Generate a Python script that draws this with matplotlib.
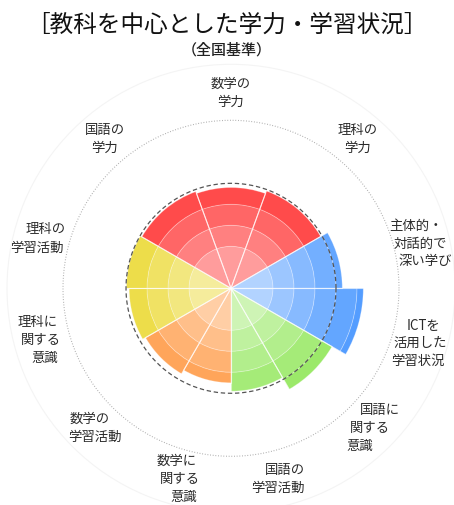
import numpy as np
import matplotlib
matplotlib.use("Agg")
import matplotlib.pyplot as plt
from matplotlib.colors import to_rgb

plt.rcParams['font.family'] = ['Noto Sans CJK JP', 'DejaVu Sans']

# ---------------- data ----------------
title = "［教科を中心とした学力・学習状況］"
subtitle = "（全国基準）"

categories = ["数学の\n学力", "理科の\n学力", "主体的・\n対話的で\n深い学び",
              "ICTを\n活用した\n学習状況", "国語に\n関する\n意識", "国語の\n学習活動",
              "数学に\n関する\n意識", "数学の\n学習活動", "理科に\n関する\n意識",
              "理科の\n学習活動", "国語の\n学力"]
groups = ["学力", "学力", "学び", "学び", "国語", "国語",
          "数学", "数学", "理科", "理科", "学力"]
values = [48, 49.3, 53, 63, 55.5, 49, 45, 47, 48.5, 49.8, 49]
national_standard = 50
band_edges = [0, 20, 30, 40, 50, 60, 70, 80]

# ---------------- style ----------------
group_colors = {"学力": "#ff2424", "学び": "#549dff", "国語": "#91e75a",
                "数学": "#ff9136", "理科": "#e9d522"}
band_alphas = [0.45, 0.58, 0.70, 0.82, 0.91, 1.0, 1.0]
label_slant_px = [0, 0, 5, -2.5, -10, -7, 4, 5, 3.5, -8, 0]
label_dy_px = [0, 0, -5, -3, 0, 0, 0, 0, 0, 0, 0]

def blend(c, a):
    r, g, b = to_rgb(c)
    return (1 - a * (1 - r), 1 - a * (1 - g), 1 - a * (1 - b))

# sector widths: the 学力 group gets one third of the circle, others share the rest
n_gakuryoku = groups.count("学力")
w_big = 120.0 / n_gakuryoku
w_small = 240.0 / (len(categories) - n_gakuryoku)
widths_deg = [w_big if g == "学力" else w_small for g in groups]
start = 90 + widths_deg[0] / 2
centers_deg = []
acc = start
for w in widths_deg:
    centers_deg.append(acc - w / 2)
    acc -= w

W, H = 454, 506
fig = plt.figure(figsize=(W / 100, H / 100), dpi=100)
cx, cy = 231, 506 - 289.3
R = 224.0
ax = fig.add_axes([(cx - R) / W, (cy - R) / H, 2 * R / W, 2 * R / H], projection='polar')
rmax = R / 2.1
ax.set_ylim(0, rmax)
ax.set_xticks([])
ax.set_yticks([])
ax.grid(False)
ax.spines['polar'].set_color('#f4f4f4')
ax.spines['polar'].set_linewidth(0.8)

for c, v, g, w in zip(centers_deg, values, groups, widths_deg):
    th = np.deg2rad(c)
    for k in range(len(band_edges) - 1):
        lo, hi = band_edges[k], band_edges[k + 1]
        if v <= lo:
            break
        top = min(v, hi)
        ax.bar(th, top - lo, width=np.deg2rad(w), bottom=lo,
               color=blend(group_colors[g], band_alphas[k]),
               edgecolor=(1, 1, 1, 0.3), linewidth=0.6, zorder=2)
    # radial separators
    for edge in (c - w / 2, c + w / 2):
        ax.plot([np.deg2rad(edge)] * 2, [0, v], color=(1, 1, 1, 0.5), lw=0.8, zorder=3)

t = np.linspace(0, 2 * np.pi, 400)
ax.plot(t, np.full_like(t, national_standard), color='#555555', lw=0.9,
        dashes=(3.5, 2.2), zorder=5)
ax.plot(t, np.full_like(t, band_edges[-1]), color='#aaaaaa', lw=0.8,
        dashes=(0.8, 1.6), zorder=1)

# labels
label_r = 93.5
line_h = 18
for c, lab, s, dy in zip(centers_deg, categories, label_slant_px, label_dy_px):
    lines = lab.split("\n")
    n = len(lines)
    for i, ln in enumerate(lines):
        off = i - (n - 1) / 2
        ax.annotate(ln, xy=(np.deg2rad(c), label_r), xytext=(s * off, -line_h * off + dy),
                    textcoords='offset pixels', ha='center', va='center',
                    fontsize=9.6, color='#2a2a2a', annotation_clip=False)

fig.text(0.5, 1 - 25 / H, title, ha='center', va='center', fontsize=17, color='#111111')
fig.text(0.5, 1 - 50 / H, subtitle, ha='center', va='center', fontsize=10.8,
         color='#222222', fontweight='medium')

fig.savefig("out.png", dpi=100)
